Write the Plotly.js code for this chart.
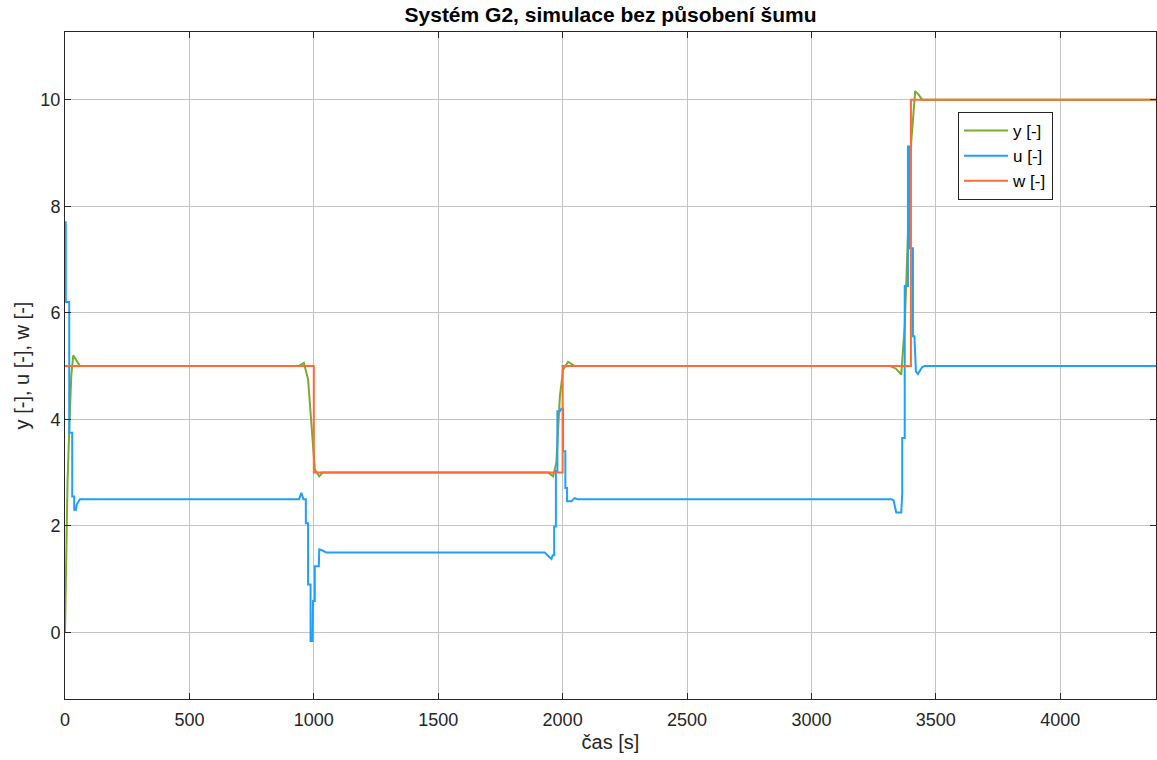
<!DOCTYPE html>
<html>
<head>
<meta charset="utf-8">
<script src="https://cdn.plot.ly/plotly-3.0.1.min.js"></script>
<style>
  html, body { margin: 0; padding: 0; background: #ffffff; }
  #chart { width: 1157px; height: 760px; }
</style>
</head>
<body>
<div id="chart"></div>
<script>
// Setpoint w [-]
const tW = [0, 1000, 1000, 2000, 2000, 3400, 3400, 4385];
const wVals = [5, 5, 3, 3, 5, 5, 10, 10];

// Output y [-]
const tY = [0, 5, 10, 17, 25, 33, 45, 60,
  940, 960, 977, 990, 1004, 1022, 1035,
  1942, 1962, 1975, 1989, 2002, 2022, 2049,
  3317, 3340, 3361, 3375, 3388, 3401, 3417, 3430, 3445, 3470,
  4385];
const yVals = [0, 1.3, 2.8, 3.8, 4.8, 5.2, 5.1, 5.0,
  5.0, 5.06, 4.75, 3.87, 3.06, 2.93, 3.0,
  3.0, 2.93, 3.19, 4.43, 4.93, 5.08, 5.0,
  5.0, 4.95, 4.84, 5.75, 7.62, 9.19, 10.16, 10.1, 10.0, 10.0,
  10.0];

// Control action u [-]
const tU = [0, 3, 3, 17, 17, 29, 29, 37, 37, 44, 47, 52, 60,
  941, 945, 950, 955, 958, 968, 968, 977, 977, 987, 987, 995, 997, 1004, 1004, 1020, 1022, 1030, 1040, 1050,
  1928, 1940, 1948, 1955, 1960, 1966, 1966, 1973, 1973, 1979, 1979, 1989, 1995, 2002, 2002, 2011, 2011, 2018, 2018, 2035, 2048, 2060,
  3321, 3330, 3341, 3361, 3365, 3365, 3375, 3375, 3388, 3388, 3395, 3395, 3408, 3408, 3414, 3420, 3428, 3435, 3445, 3455,
  4385];
const uVals = [7.7, 7.7, 6.2, 6.2, 3.75, 3.75, 2.55, 2.55, 2.3, 2.3, 2.4, 2.45, 2.5,
  2.5, 2.58, 2.62, 2.55, 2.5, 2.5, 2.05, 2.05, 0.9, 0.9, -0.16, -0.16, 0.59, 0.59, 1.24, 1.24, 1.56, 1.55, 1.52, 1.5,
  1.5, 1.45, 1.4, 1.38, 1.45, 1.45, 1.99, 1.99, 3.03, 3.03, 4.15, 4.15, 4.2, 4.2, 3.4, 3.4, 2.71, 2.71, 2.46, 2.46, 2.52, 2.5,
  2.5, 2.48, 2.25, 2.25, 2.6, 3.65, 3.65, 6.5, 6.5, 9.12, 9.12, 7.21, 7.21, 5.56, 5.56, 4.9, 4.85, 4.9, 4.98, 5.0,
  5.0];

const seriesNames = ['y [-]', 'u [-]', 'w [-]'];
const seriesColors = ['#77AC30', '#1EA0FF', '#FF6B35'];

const xTicks = [0, 500, 1000, 1500, 2000, 2500, 3000, 3500, 4000];
const yTicks = [0, 2, 4, 6, 8, 10];

const fontFamily = '"Liberation Sans", Arial, Helvetica, sans-serif';
const axisColor = '#262626';

const traces = [
  { x: tY, y: yVals, name: seriesNames[0] },
  { x: tU, y: uVals, name: seriesNames[1] },
  { x: tW, y: wVals, name: seriesNames[2] }
].map((t, i) => ({
  type: 'scatter',
  mode: 'lines',
  x: t.x,
  y: t.y,
  name: t.name,
  line: { color: seriesColors[i], width: 2 },
  hoverinfo: 'skip'
}));

const axisCommon = {
  showline: true,
  linecolor: axisColor,
  linewidth: 1,
  mirror: 'ticks',
  ticks: 'inside',
  ticklen: 6,
  tickwidth: 1,
  tickcolor: axisColor,
  showgrid: true,
  gridcolor: '#C4C4C4',
  gridwidth: 1,
  zeroline: false,
  tickfont: { family: fontFamily, size: 18, color: axisColor }
};

const layout = {
  width: 1157,
  height: 760,
  margin: { l: 65, r: 1, t: 32, b: 61 },
  paper_bgcolor: '#ffffff',
  plot_bgcolor: '#ffffff',
  font: { family: fontFamily, color: axisColor },
  title: {
    text: '<b>Systém G2, simulace bez působení šumu</b>',
    font: { family: fontFamily, size: 21, color: '#000000' },
    x: 0.5, xref: 'paper', xanchor: 'center',
    y: 1 - 15 / 760, yref: 'container', yanchor: 'middle'
  },
  xaxis: Object.assign({}, axisCommon, {
    range: [0, 4385],
    tickvals: xTicks,
    ticktext: xTicks.map(String),
    ticklabelstandoff: 4,
    title: { text: 'čas [s]', font: { family: fontFamily, size: 20, color: axisColor }, standoff: 6 }
  }),
  yaxis: Object.assign({}, axisCommon, {
    range: [-1.25, 11.27],
    tickvals: yTicks,
    ticktext: yTicks.map(String),
    title: { text: 'y [-], u [-], w [-]', font: { family: fontFamily, size: 20, color: axisColor }, standoff: 5 }
  }),
  legend: {
    x: (958 - 65) / 1091,
    y: 1 - (112 - 32) / 667,
    xanchor: 'left',
    yanchor: 'top',
    bgcolor: '#ffffff',
    bordercolor: axisColor,
    borderwidth: 1,
    itemwidth: 44,
    font: { family: fontFamily, size: 17, color: '#000000' },
    tracegroupgap: 0
  },
  showlegend: true
};

Plotly.newPlot('chart', traces, layout, { displayModeBar: false, staticPlot: true });
</script>
</body>
</html>
